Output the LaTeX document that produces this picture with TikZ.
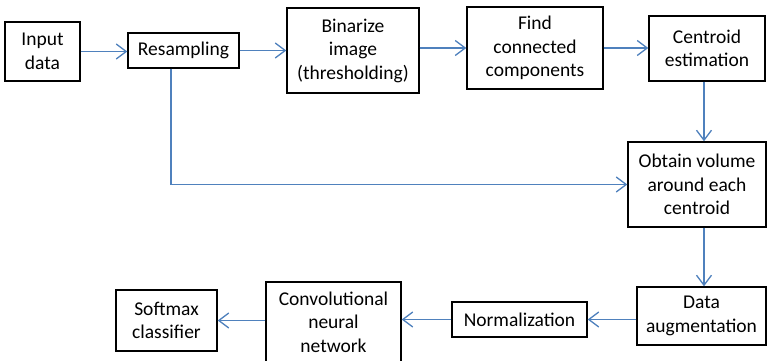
\documentclass[tikz,border=0pt]{standalone}
\usepackage{fontspec}
\setmainfont{Carlito}
\usetikzlibrary{arrows.meta}
\definecolor{arrowblue}{RGB}{79,129,189}
\begin{document}
\begin{tikzpicture}[x=1pt,y=-1pt,
  box/.style={draw=black,line width=1.4pt,align=center,inner sep=0pt,
    font=\fontsize{19.5}{23.5}\selectfont},
  arr/.style={draw=arrowblue,line width=1.3pt,
    -{Straight Barb[length=10pt,width=15pt]}}]
\useasboundingbox (0,0) rectangle (769,360);
\clip (0,0) rectangle (769,360);
\fill[white] (0,0) rectangle (769,360);
\node[box,minimum width=75pt,minimum height=59pt] (in) at (42.5,51.5) {Input\\data};
\node[box,minimum width=111pt,minimum height=35pt] (res) at (183.5,50.5) {Resampling};
\node[box,minimum width=132pt,minimum height=85pt] (bin) at (353,50.5) {Binarize\\image\\(thresholding)};
\node[box,minimum width=136pt,minimum height=82pt] (find) at (535,48) {Find\\connected\\components};
\node[box,minimum width=116pt,minimum height=65pt] (cen) at (707,48.5) {Centroid\\estimation};
\node[box,minimum width=138pt,minimum height=85pt] (obt) at (697,184.5) {Obtain volume\\around each\\centroid};
\node[box,minimum width=129pt,minimum height=58pt] (aug) at (701.5,316) {Data\\augmentation};
\node[box,minimum width=135pt,minimum height=35pt] (norm) at (519.5,319.5) {Normalization};
\node[box,minimum width=135pt,minimum height=80pt] (cnn) at (333.5,322) {Convolutional\\neural\\network};
\node[box,minimum width=101pt,minimum height=61pt] (soft) at (166.5,320.5) {Softmax\\classifier};
\draw[arr] (in.east) -- (res.west |- in.east);
\draw[arr] (res.east) -- (bin.west |- res.east);
\draw[arr] (bin.east |- find.west) -- (find.west);
\draw[arr] (find.east) -- (cen.west |- find.east);
\draw[arr] (cen.south -| 704,0) -- (obt.north -| 704,0);
\draw[arr] (res.south -| 171,0) |- (obt.west);
\draw[arr] (obt.south -| 704,0) -- (aug.north -| 704,0);
\draw[arr] (aug.west |- norm.east) -- (norm.east);
\draw[arr] (norm.west) -- (cnn.east |- norm.west);
\draw[arr] (cnn.west |- soft.east) -- (soft.east);
\end{tikzpicture}
\end{document}
